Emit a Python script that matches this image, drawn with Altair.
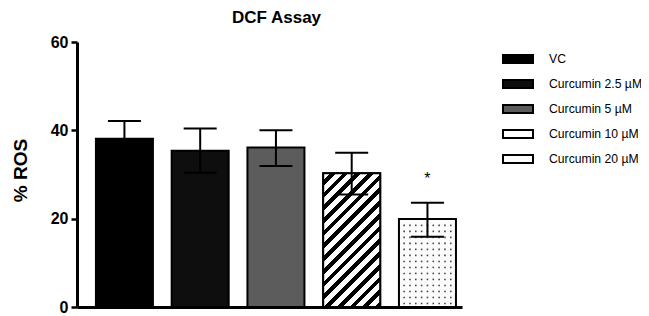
import altair as alt
import pandas as pd

groups = ["VC", "Curcumin 2.5 µM", "Curcumin 5 µM", "Curcumin 10 µM", "Curcumin 20 µM"]
means = [38.1, 35.4, 36.1, 30.3, 19.9]
upper = [42.1, 40.4, 40.0, 34.9, 23.6]
lower = [34.1, 30.4, 31.9, 25.5, 15.9]
significance = ["", "", "", "", "*"]
fills = ["#000000", "#0e0e0e", "#5c5c5c", "#ffffff", "#fcfcfc"]

df = pd.DataFrame({
    "group": groups,
    "idx": list(range(len(groups))),
    "mean": means,
    "upper": upper,
    "lower": lower,
    "sig": significance,
})

FONT = "Liberation Sans"
BAR_W = 57

# diagonal stripe pattern made from a hard-stop linear gradient
periods = 15
black_frac = 0.45
stops = []
for k in range(periods):
    a = k / periods
    b = (k + 1 - black_frac) / periods
    c = (k + 1) / periods
    stops += [
        {"offset": a, "color": "white"},
        {"offset": b, "color": "white"},
        {"offset": b, "color": "black"},
        {"offset": c, "color": "black"},
    ]
stripes = alt.LinearGradient(gradient="linear", stops=stops, x1=0, y1=0, x2=0.514, y2=1.207)

xscale = alt.Scale(domain=[-0.56, 4.39], nice=False, zero=False)
yscale = alt.Scale(domain=[0, 60], nice=False)

x_enc = alt.X("idx:Q", scale=xscale,
              axis=alt.Axis(labels=False, ticks=False, title=None, grid=False,
                            domainWidth=3, domainColor="black"))
y_axis = alt.Axis(values=[0, 20, 40, 60], title="% ROS", grid=False,
                  domainWidth=3, domainColor="black", tickWidth=2.5, tickSize=6,
                  tickColor="black", labelFont=FONT, labelFontSize=16,
                  labelFontWeight="bold", labelColor="black", labelPadding=3,
                  titleFont=FONT, titleFontSize=19, titleFontWeight="bold",
                  titleColor="black", titleAngle=270, titleBaseline="alphabetic",
                  titleAlign="center", titleX=-51, titleY=128)

base = alt.Chart(df)

bars = base.mark_bar(size=BAR_W, stroke="black", strokeWidth=2).encode(
    x=x_enc,
    y=alt.Y("mean:Q", scale=yscale, axis=y_axis),
    fill=alt.Fill("group:N", scale=alt.Scale(domain=groups, range=fills),
                  sort=groups,
                  legend=alt.Legend(title=None, orient="none", legendX=425, legendY=1,
                                    symbolType="M-1,-0.27H1V0.27H-1Z", symbolSize=900,
                                    symbolStrokeColor="black", symbolStrokeWidth=2,
                                    symbolOpacity=1, labelFont=FONT, labelFontSize=12.2,
                                    labelColor="black", labelOffset=15, labelLimit=220,
                                    rowPadding=0, padding=0)),
)

striped = base.transform_filter("datum.idx == 3").mark_bar(
    size=BAR_W, stroke="black", strokeWidth=2, fill=stripes
).encode(x=alt.X("idx:Q", scale=xscale), y=alt.Y("mean:Q", scale=yscale))

# dotted texture for the last bar
n_cols, n_rows = 9, 16
dots = alt.Chart(alt.sequence(0, n_cols * n_rows, as_="k")).transform_calculate(
    col=f"datum.k % {n_cols}",
    row=f"floor(datum.k / {n_cols})",
).transform_calculate(
    dx=f"4 + (datum.col - {(n_cols - 1) / 2}) * 0.077",
    dy="0.8 + datum.row * 1.36",
).transform_filter(f"datum.dy < {means[4]} - 0.5").mark_square(
    size=2.5, color="#444444", opacity=1
).encode(x=alt.X("dx:Q", scale=xscale), y=alt.Y("dy:Q", scale=yscale))

err = base.mark_rule(color="black", strokeWidth=2).encode(
    x=alt.X("idx:Q", scale=xscale), y=alt.Y("lower:Q", scale=yscale), y2="upper:Q"
)
cap_hi = base.mark_tick(orient="horizontal", size=33, thickness=2, color="black", opacity=1).encode(
    x=alt.X("idx:Q", scale=xscale), y=alt.Y("upper:Q", scale=yscale)
)
cap_lo = base.mark_tick(orient="horizontal", size=33, thickness=2, color="black", opacity=1).encode(
    x=alt.X("idx:Q", scale=xscale), y=alt.Y("lower:Q", scale=yscale)
)
star = base.mark_text(font=FONT, fontSize=16, dy=-19, baseline="alphabetic", color="black").encode(
    x=alt.X("idx:Q", scale=xscale), y=alt.Y("upper:Q", scale=yscale), text="sig:N"
)

chart = alt.layer(bars, striped, dots, err, cap_hi, cap_lo, star).properties(
    width=385,
    height=265,
    background="white",
    title=alt.Title("DCF Assay", font=FONT, fontSize=17, fontWeight="bold",
                    color="black", offset=7, dx=7, anchor="middle"),
    autosize=alt.AutoSizeParams(type="none"),
    padding={"left": 69, "top": 34, "right": 179, "bottom": 8},
).configure_view(stroke="transparent", strokeWidth=0)

chart.save("out.html", embed_options={"renderer": "svg", "actions": False})
